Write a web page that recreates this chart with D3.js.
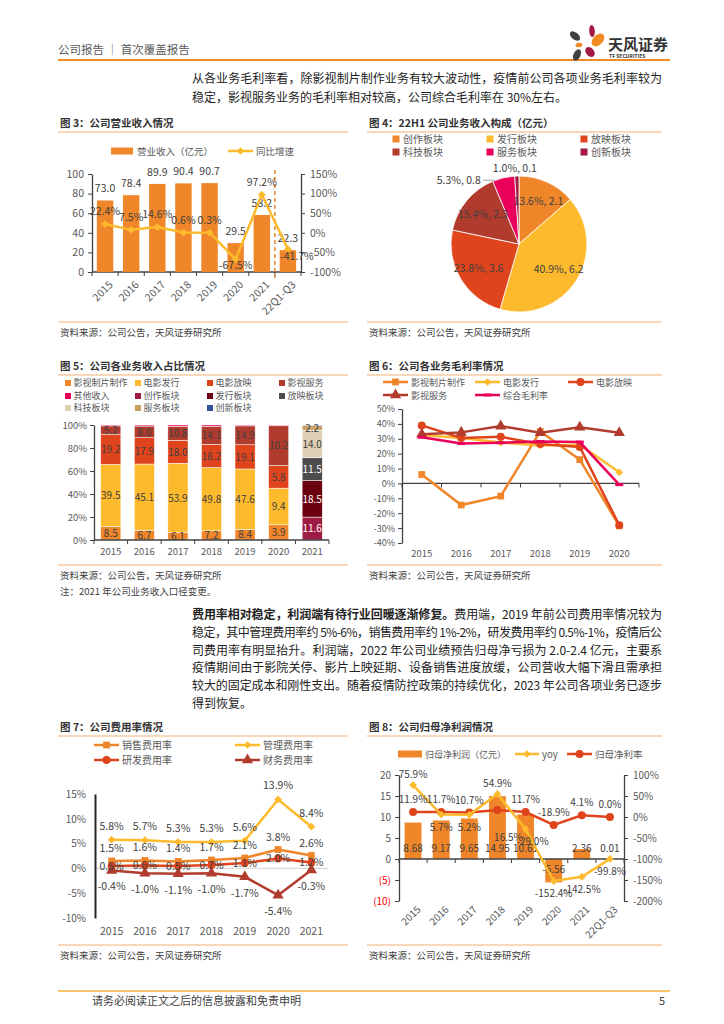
<!DOCTYPE html>
<html>
<head>
<meta charset="utf-8">
<script src="https://cdn.jsdelivr.net/npm/d3@7"></script>
<style>
  body { margin: 0; background: #fff; }
  svg { display: block; font-family: "Noto Sans CJK SC", "Noto Sans", sans-serif; }
</style>
</head>
<body>
<svg id="page" width="724" height="1024"></svg>
<script>
// ---- data ----
const revYears = ['2015', '2016', '2017', '2018', '2019', '2020', '2021', '22Q1-Q3'];
const revenue = [73.0, 78.4, 89.9, 90.4, 90.7, 29.5, 58.2, 22.3];
const revGrowth = [22.4, 7.5, 14.6, 0.6, 0.3, -67.5, 97.2, -41.7];

const pieNames = ['创作板块', '发行板块', '放映板块', '科技板块', '服务板块', '创新板块'];
const piePct = [13.6, 40.9, 23.8, 15.4, 5.3, 1.0];
const pieVal = [2.1, 6.2, 3.6, 2.3, 0.8, 0.1];

const mixYears = ['2015', '2016', '2017', '2018', '2019', '2020', '2021'];
const mixNames = ['影视制片制作', '电影发行', '电影放映', '影视服务', '其他收入', '创作板块', '发行板块', '放映板块', '科技板块', '服务板块', '创新板块'];
const mixProduction = [8.5, 6.7, 6.1, 7.2, 8.4, 3.9, 0];
const mixDistribution = [39.5, 45.1, 53.9, 49.8, 47.6, 9.4, 0];
const mixExhibition = [19.2, 17.9, 18.0, 18.2, 19.1, 5.8, 0];
const mixService = [5.2, 8.0, 10.8, 14.1, 14.9, 10.2, 0];
const mixOther = [0.6, 0.7, 1.1, 1.1, 0.7, 0.2, 0];
const mixCreation = [0, 0, 0, 0, 0, 0, 11.6];
const mixRelease = [0, 0, 0, 0, 0, 0, 18.5];
const mixScreen = [0, 0, 0, 0, 0, 0, 11.5];
const mixTech = [0, 0, 0, 0, 0, 0, 14.0];
const mixServe = [0, 0, 0, 0, 0, 0, 2.2];
const mixInnov = [0, 0, 0, 0, 0, 0, 0.4];

const gmYears = ['2015', '2016', '2017', '2018', '2019', '2020'];
const gmNames = ['影视制片制作', '电影发行', '电影放映', '影视服务', '综合毛利率'];
const gmProduction = [6.0, -14.5, -8.5, 35.0, 16.0, -28.5];
const gmDistribution = [32.5, 30.5, 27.5, 25.5, 26.0, 7.5];
const gmExhibition = [39.0, 30.5, 31.3, 26.5, 24.5, -28.0];
const gmService = [33.0, 34.3, 38.5, 34.0, 37.8, 34.0];
const gmTotal = [31.0, 26.8, 27.3, 28.2, 27.8, -0.8];

const feeYears = ['2015', '2016', '2017', '2018', '2019', '2020', '2021'];
const feeNames = ['销售费用率', '管理费用率', '研发费用率', '财务费用率'];
const feeSales = [1.5, 1.6, 1.4, 1.7, 2.1, 3.8, 2.6];
const feeAdmin = [5.8, 5.7, 5.3, 5.3, 5.6, 13.9, 8.4];
const feeRD = [0.5, 0.6, 0.5, 0.7, 1.1, 2.0, 1.2];
const feeFin = [-0.4, -1.0, -1.1, -1.0, -1.7, -5.4, -0.3];

const npYears = ['2015', '2016', '2017', '2018', '2019', '2020', '2021', '22Q1-Q3'];
const netProfit = [8.68, 9.17, 9.65, 14.95, 10.61, -5.56, 2.36, 0.01];
const npYoy = [75.9, 5.7, 5.2, 54.9, -29.0, -152.4, -142.5, -99.8];
const npMargin = [11.9, 11.7, 10.7, 16.5, 11.7, -18.9, 4.1, 0.0];

// ---- colours / helpers ----
const col = {
  orange: '#F0862A', yellow: '#FDBA2C', red: '#E0441D', brown: '#B13C2E',
  magenta: '#E8005A', crimson: '#A01C45', maroon: '#6A0010', gray: '#4D4D4D',
  beige: '#DDD0B4', tan: '#C9A064', blue: '#2F5597'
};
const FONT = '"Noto Sans CJK SC", "Noto Sans", sans-serif';
const TXT = '#404040';
const svg = d3.select('#page');

function txt(g, x, y, s, o = {}) {
  return g.append('text').attr('x', x).attr('y', y).text(s)
    .attr('font-size', o.size || 10).attr('fill', o.fill || TXT)
    .attr('text-anchor', o.anchor || 'start')
    .attr('font-weight', o.weight || 'normal');
}

function styleAxis(sel, size) {
  sel.attr('font-family', FONT);
  sel.select('.domain').attr('stroke', '#404040').attr('stroke-width', 1.3);
  sel.selectAll('.tick line').attr('stroke', '#404040');
  sel.selectAll('.tick text').attr('fill', '#595959').attr('font-size', size);
}

function catAxis(g, x, y, tick, color) {
  const [a, b] = x.range();
  g.append('line').attr('x1', a).attr('x2', b).attr('y1', y).attr('y2', y)
    .attr('stroke', color || '#404040').attr('stroke-width', 1.3);
  if (!tick) return;
  g.selectAll(null).data(d3.range(x.domain().length + 1)).enter().append('line')
    .attr('x1', i => a + i * x.step()).attr('x2', i => a + i * x.step())
    .attr('y1', y).attr('y2', y + tick).attr('stroke', color || '#404040');
}

function marker(g, shape, cx, cy, color) {
  if (shape === 'dash') {
    return g.append('rect').attr('x', cx - 4).attr('y', cy - 1.5).attr('width', 8).attr('height', 3).attr('fill', color);
  }
  const types = { square: [d3.symbolSquare, 46], diamond: [d3.symbolSquare, 30], circle: [d3.symbolCircle, 50], triangle: [d3.symbolTriangle, 55] };
  const t = types[shape];
  return g.append('path').attr('d', d3.symbol(t[0], t[1])())
    .attr('transform', `translate(${cx},${cy})` + (shape === 'diamond' ? ' rotate(45)' : ''))
    .attr('fill', color);
}

function legendLine(g, x1, x2, y, color, shape, label, size) {
  g.append('line').attr('x1', x1).attr('x2', x2).attr('y1', y).attr('y2', y).attr('stroke', color).attr('stroke-width', 2.5);
  marker(g, shape, (x1 + x2) / 2, y, color);
  txt(g, x2 + 3, y + 3.5, label, { size: size || 10, fill: '#595959' });
}

function frame(x0, x1, ty, title, lineY, botY, notes) {
  txt(svg, x0 + 2, ty, title, { size: 10.5, weight: 'bold', fill: '#333' });
  [lineY, botY].forEach(y => svg.append('line').attr('x1', x0).attr('x2', x1).attr('y1', y).attr('y2', y)
    .attr('stroke', '#F4AF72').attr('stroke-width', 1));
  notes.forEach((n, i) => txt(svg, x0 + 2, botY + 13.5 + i * 16.5, n, { size: 9.5, fill: '#404040' }));
}

const SRC = '资料来源：公司公告，天风证券研究所';

// ---- page header ----
function header() {
  txt(svg, 58, 54, '公司报告 ｜ 首次覆盖报告', { size: 11.5, fill: '#595959' });
  svg.append('line').attr('x1', 58).attr('x2', 670).attr('y1', 60).attr('y2', 60).attr('stroke', '#F08A24').attr('stroke-width', 2);
  const lg = svg.append('g');
  const petals = [
    [592, 31, 2.8, 6, -5, '#A3193F'], [598, 40, 5, 7.5, 45, '#F08A24'], [575, 36, 3.5, 6, -50, '#404040'],
    [579, 45, 3.5, 2.2, -10, '#F08A24'], [590, 52, 4, 5.5, -40, '#A3193F'], [577, 55, 3.5, 6, 25, '#404040']
  ];
  petals.forEach(p => lg.append('ellipse').attr('cx', 0).attr('cy', 0).attr('rx', p[2]).attr('ry', p[3])
    .attr('transform', `translate(${p[0]},${p[1]}) rotate(${p[4]})`).attr('fill', p[5]));
  txt(lg, 608, 50, '天风证券', { size: 15, weight: 'bold', fill: '#333' });
  txt(lg, 609, 58, 'TF SECURITIES', { size: 5, weight: 'bold', fill: '#333' });
}

function para(lines, y0, lh) {
  lines.forEach((ln, i) => {
    const t = svg.append('text').attr('x', 192).attr('y', y0 + i * lh).attr('font-size', 12).attr('fill', '#222');
    ln.parts.forEach(p => t.append('tspan').text(p[0]).attr('font-weight', p[1] ? 'bold' : 'normal'));
    if (ln.full) t.attr('textLength', 470).attr('lengthAdjust', 'spacing');
  });
}

// ---- 图3 ----
function chart3() {
  const g = svg.append('g');
  const x = d3.scaleBand().domain(revYears).range([92, 301]).paddingInner(0.37).paddingOuter(0.185);
  const yL = d3.scaleLinear().domain([0, 100]).range([272, 174]);
  const yR = d3.scaleLinear().domain([-100, 150]).range([272, 174]);
  const cx = d => x(d) + x.bandwidth() / 2;

  g.append('g').attr('transform', 'translate(92,0)')
    .call(d3.axisLeft(yL).tickValues(d3.range(0, 101, 20)).tickSize(4).tickSizeOuter(0).tickPadding(4)).call(styleAxis, 10.5);
  g.append('g').attr('transform', 'translate(301,0)')
    .call(d3.axisRight(yR).tickValues(d3.range(-100, 151, 50)).tickFormat(d => d + '%').tickSize(4).tickSizeOuter(0).tickPadding(5)).call(styleAxis, 10.5);
  catAxis(g, x, 272, 4);

  g.selectAll('.bar').data(revenue).enter().append('rect')
    .attr('x', (d, i) => x(revYears[i])).attr('width', x.bandwidth())
    .attr('y', d => yL(d)).attr('height', d => yL(0) - yL(d)).attr('fill', col.orange);
  g.selectAll('.bl').data(revenue).enter().append('text')
    .attr('x', (d, i) => cx(revYears[i])).attr('y', d => yL(d) - 8)
    .attr('text-anchor', 'middle').attr('font-size', 10.5).attr('fill', TXT).text(d => d.toFixed(1));

  const bx = x.range()[0] + 7 * x.step();
  g.append('line').attr('x1', bx).attr('x2', bx).attr('y1', 170).attr('y2', 278)
    .attr('stroke', col.orange).attr('stroke-width', 1.5).attr('stroke-dasharray', '4,3');

  const line = d3.line().x((d, i) => cx(revYears[i])).y(d => yR(d));
  g.append('path').datum(revGrowth).attr('d', line).attr('fill', 'none').attr('stroke', col.yellow).attr('stroke-width', 2.5);
  revGrowth.forEach((v, i) => marker(g, 'diamond', cx(revYears[i]), yR(v), col.yellow));
  g.selectAll('.gl').data(revGrowth).enter().append('text')
    .attr('x', (d, i) => cx(revYears[i]) + (i === 7 ? 9 : 0))
    .attr('y', (d, i) => yR(d) + (i === 5 ? 10 : i === 7 ? 10.5 : -9))
    .attr('text-anchor', 'middle').attr('font-size', 10.5).attr('fill', TXT).text(d => d.toFixed(1) + '%');

  g.selectAll('.xl').data(revYears).enter().append('text')
    .attr('transform', d => `translate(${cx(d) + 4},281) rotate(-45)`)
    .attr('text-anchor', 'end').attr('dy', '0.6em').attr('font-size', 10.5).attr('fill', '#595959').text(d => d);

  g.append('rect').attr('x', 111).attr('y', 147.5).attr('width', 22).attr('height', 7).attr('fill', col.orange);
  txt(g, 137, 154.5, '营业收入（亿元）', { size: 9.5, fill: '#595959' });
  legendLine(g, 228, 253, 151, col.yellow, 'diamond', '同比增速', 9.5);
}

// ---- 图4 ----
function chart4() {
  const g = svg.append('g').attr('transform', 'translate(519,244)');
  const colors = [col.orange, col.yellow, col.red, col.brown, col.magenta, col.crimson];
  const arcs = d3.pie().sort(null)(piePct);
  const arc = d3.arc().innerRadius(0).outerRadius(68);
  const lab = d3.arc().innerRadius(47).outerRadius(47);
  g.selectAll('path').data(arcs).enter().append('path').attr('d', arc)
    .attr('fill', (d, i) => colors[i]).attr('stroke', '#fff').attr('stroke-width', 0.8);
  arcs.forEach((a, i) => {
    const s = piePct[i].toFixed(1) + '%, ' + pieVal[i].toFixed(1);
    if (piePct[i] > 10) {
      const c = lab.centroid(a);
      txt(g, c[0], c[1] + 4, s, { size: 10.5, anchor: 'middle' });
    } else if (i === 4) {
      const ex = 68 * Math.sin(a.startAngle), ey = -68 * Math.cos(a.startAngle);
      g.append('line').attr('x1', ex - 10).attr('x2', ex + 2).attr('y1', ey - 1).attr('y2', ey - 1).attr('stroke', '#A6A6A6');
      txt(g, ex - 12, ey + 2.5, s, { size: 10.5, anchor: 'end' });
    } else {
      const m = (a.startAngle + a.endAngle) / 2;
      txt(g, 68 * Math.sin(m) - 2, -68 * Math.cos(m) - 4, s, { size: 10.5, anchor: 'middle' });
    }
  });
  const lg = svg.append('g');
  pieNames.forEach((n, i) => {
    const lx = [396, 490, 584][i % 3], ly = [139, 152][Math.floor(i / 3)];
    lg.append('rect').attr('x', lx - 3.5).attr('y', ly - 3.5).attr('width', 7).attr('height', 7).attr('fill', colors[i]);
    txt(lg, lx + 7, ly + 4, n, { size: 10, fill: '#595959' });
  });
}

// ---- 图5 ----
function chart5() {
  const g = svg.append('g');
  const series = [mixProduction, mixDistribution, mixExhibition, mixService, mixOther, mixCreation, mixRelease, mixScreen, mixTech, mixServe, mixInnov];
  const colors = [col.orange, col.yellow, col.red, col.brown, col.magenta, col.crimson, col.maroon, col.gray, col.beige, col.tan, col.blue];
  const rows = mixYears.map((yr, i) => {
    const r = { year: yr };
    mixNames.forEach((n, k) => { r[n] = series[k][i]; });
    return r;
  });
  const stack = d3.stack().keys(mixNames).offset(d3.stackOffsetExpand)(rows);
  const x = d3.scaleBand().domain(mixYears).range([94, 329]).paddingInner(0.4).paddingOuter(0.2);
  const y = d3.scaleLinear().domain([0, 1]).range([540, 425]);

  g.append('g').attr('transform', 'translate(94,0)')
    .call(d3.axisLeft(y).tickValues(d3.range(0, 1.01, 0.2)).tickFormat(d3.format('.0%')).tickSize(4).tickSizeOuter(0).tickPadding(3)).call(styleAxis, 9.5);

  stack.forEach((s, k) => {
    g.selectAll(null).data(s).enter().append('rect')
      .attr('x', d => x(d.data.year)).attr('width', x.bandwidth())
      .attr('y', d => y(d[1])).attr('height', d => y(d[0]) - y(d[1]))
      .attr('fill', colors[k]).attr('stroke', '#fff').attr('stroke-width', 0.5);
  });
  stack.forEach((s, k) => {
    if (k === 4 || k === 10) return;
    s.forEach((d, i) => {
      const v = series[k][i];
      if (v < 1.5) return;
      const dark = k >= 5 && k <= 7;
      txt(g, x(d.data.year) + x.bandwidth() / 2, (y(d[0]) + y(d[1])) / 2 + 3.8, v.toFixed(1),
        { size: 10, anchor: 'middle', fill: dark ? '#fff' : TXT });
    });
  });
  catAxis(g, x, 540, 4);
  mixYears.forEach(d => txt(g, x(d) + x.bandwidth() / 2, 555, d, { size: 9.5, anchor: 'middle', fill: '#595959' }));

  mixNames.forEach((n, i) => {
    const lx = [68, 138, 210, 282][i % 4], ly = [383, 396, 408][Math.floor(i / 4)];
    g.append('rect').attr('x', lx - 3).attr('y', ly - 3).attr('width', 6).attr('height', 6).attr('fill', colors[i]);
    txt(g, lx + 5.5, ly + 3.3, n, { size: 9, fill: '#595959' });
  });
}

// ---- 图6 ----
function chart6() {
  const g = svg.append('g');
  const series = [gmProduction, gmDistribution, gmExhibition, gmService, gmTotal];
  const colors = [col.orange, col.yellow, col.red, col.brown, col.magenta];
  const shapes = ['square', 'diamond', 'circle', 'triangle', 'dash'];
  const x = d3.scaleBand().domain(gmYears).range([402, 639]);
  const y = d3.scaleLinear().domain([-40, 50]).range([543, 409]);
  const cx = d => x(d) + x.bandwidth() / 2;

  g.append('g').attr('transform', 'translate(402,0)')
    .call(d3.axisLeft(y).tickValues(d3.range(-40, 51, 10)).tickFormat(d => d + '%').tickSize(4).tickSizeOuter(0).tickPadding(3)).call(styleAxis, 9);
  catAxis(g, x, y(0), 4);
  gmYears.forEach(d => txt(g, cx(d), 557, d, { size: 9.5, anchor: 'middle', fill: '#595959' }));

  const line = d3.line().x((d, i) => cx(gmYears[i])).y(d => y(d));
  series.forEach((s, k) => {
    g.append('path').datum(s).attr('d', line).attr('fill', 'none').attr('stroke', colors[k]).attr('stroke-width', 2.5);
    s.forEach((v, i) => marker(g, shapes[k], cx(gmYears[i]), y(v), colors[k]));
  });

  gmNames.forEach((n, i) => {
    const lx = [383, 475, 568][i % 3], ly = [382, 395][Math.floor(i / 3)];
    legendLine(g, lx, lx + 25, ly, colors[i], shapes[i], n, 9);
  });
}

// ---- 图7 ----
function chart7() {
  const g = svg.append('g');
  const series = [feeSales, feeAdmin, feeRD, feeFin];
  const colors = [col.orange, col.yellow, col.red, col.brown];
  const shapes = ['square', 'diamond', 'circle', 'triangle'];
  const dy = [-9, -10, 4, 20];
  const x = d3.scaleBand().domain(feeYears).range([95, 328]);
  const y = d3.scaleLinear().domain([-10, 15]).range([918, 794]);
  const cx = d => x(d) + x.bandwidth() / 2;

  catAxis(g, x, y(0), 0, '#D9D9D9');
  const ax = g.append('g').attr('transform', 'translate(95,0)')
    .call(d3.axisLeft(y).tickValues(d3.range(-10, 16, 5)).tickFormat(d => d + '%').tickSize(0).tickPadding(9));
  ax.call(styleAxis, 10);
  ax.select('.domain').attr('stroke', '#262626').attr('stroke-width', 2);
  feeYears.forEach(d => txt(g, cx(d), 935, d, { size: 10.5, anchor: 'middle', fill: '#595959' }));

  const line = d3.line().x((d, i) => cx(feeYears[i])).y(d => y(d));
  series.forEach((s, k) => {
    g.append('path').datum(s).attr('d', line).attr('fill', 'none').attr('stroke', colors[k]).attr('stroke-width', 2.5);
    s.forEach((v, i) => marker(g, shapes[k], cx(feeYears[i]), y(v), colors[k]));
  });
  series.forEach((s, k) => {
    s.forEach((v, i) => txt(g, cx(feeYears[i]), y(v) + dy[k], v.toFixed(1) + '%', { size: 10.5, anchor: 'middle' }));
  });

  feeNames.forEach((n, i) => {
    const lx = [94, 235][i % 2], ly = [745, 760][Math.floor(i / 2)];
    legendLine(g, lx, lx + 25, ly, colors[i], shapes[i], n, 10);
  });
}

// ---- 图8 ----
function chart8() {
  const g = svg.append('g');
  const x = d3.scaleBand().domain(npYears).range([399, 624]).paddingInner(0.4).paddingOuter(0.2);
  const yL = d3.scaleLinear().domain([-10, 20]).range([901, 775]);
  const yR = d3.scaleLinear().domain([-200, 100]).range([901, 775]);
  const cx = d => x(d) + x.bandwidth() / 2;

  const al = g.append('g').attr('transform', 'translate(399,0)')
    .call(d3.axisLeft(yL).tickValues(d3.range(-10, 21, 5)).tickFormat(d => d < 0 ? '(' + (-d) + ')' : d).tickSize(4).tickSizeOuter(0).tickPadding(4));
  al.call(styleAxis, 10);
  al.selectAll('.tick text').attr('fill', d => d < 0 ? '#FF0000' : '#595959');
  g.append('g').attr('transform', 'translate(624,0)')
    .call(d3.axisRight(yR).tickValues(d3.range(-200, 101, 50)).tickFormat(d => d + '%').tickSize(4).tickSizeOuter(0).tickPadding(5)).call(styleAxis, 10);

  g.selectAll('.bar').data(netProfit).enter().append('rect')
    .attr('x', (d, i) => x(npYears[i])).attr('width', x.bandwidth())
    .attr('y', d => yL(Math.max(0, d))).attr('height', d => Math.abs(yL(d) - yL(0))).attr('fill', col.orange);
  catAxis(g, x, yL(0), 4);
  netProfit.forEach((v, i) => txt(g, cx(npYears[i]), yL(0) + (v < 0 ? 14 : -7), v.toFixed(2), { size: 10, anchor: 'middle' }));

  const line = d3.line().x((d, i) => cx(npYears[i])).y(d => yR(d));
  g.append('path').datum(npMargin).attr('d', line).attr('fill', 'none').attr('stroke', col.red).attr('stroke-width', 2.5);
  npMargin.forEach((v, i) => marker(g, 'circle', cx(npYears[i]), yR(v), col.red));
  g.append('path').datum(npYoy).attr('d', line).attr('fill', 'none').attr('stroke', col.yellow).attr('stroke-width', 2.5);
  npYoy.forEach((v, i) => marker(g, 'diamond', cx(npYears[i]), yR(v), col.yellow));

  npYoy.forEach((v, i) => {
    const up = i === 0 || i === 3;
    txt(g, cx(npYears[i]) + (i === 4 ? 7 : 0), yR(v) + (up ? -7 : 16), v.toFixed(1) + '%', { size: 10, anchor: 'middle' });
  });
  npMargin.forEach((v, i) => {
    const below = i === 3;
    txt(g, cx(npYears[i]) + (below ? 11 : 0), yR(v) + (below ? 31 : -9), v.toFixed(1) + '%', { size: 10, anchor: 'middle' });
  });

  g.selectAll('.xl').data(npYears).enter().append('text')
    .attr('transform', d => `translate(${cx(d) + 4},906) rotate(-45)`)
    .attr('text-anchor', 'end').attr('dy', '0.6em').attr('font-size', 10).attr('fill', '#595959').text(d => d);

  g.append('rect').attr('x', 398).attr('y', 750.5).attr('width', 24).attr('height', 7).attr('fill', col.orange);
  txt(g, 425, 757.5, '归母净利润（亿元）', { size: 9, fill: '#595959' });
  legendLine(g, 515, 539, 754, col.yellow, 'diamond', 'yoy', 9.5);
  legendLine(g, 567, 592, 754, col.red, 'circle', '归母净利率', 9.5);
}

// ---- page ----
header();
para([
  { parts: [['从各业务毛利率看，除影视制片制作业务有较大波动性，疫情前公司各项业务毛利率较为', 0]], full: true },
  { parts: [['稳定，影视服务业务的毛利率相对较高，公司综合毛利率在 30%左右。', 0]] }
], 83, 18.5);

frame(58, 348, 127, '图 3：公司营业收入情况', 132, 322, [SRC]);
frame(367, 662, 127, '图 4：22H1 公司业务收入构成（亿元）', 132, 322, [SRC]);
frame(58, 348, 370, '图 5：公司各业务收入占比情况', 375, 565, [SRC, '注：2021 年公司业务收入口径变更。']);
frame(367, 662, 370, '图 6：公司各业务毛利率情况', 375, 565, [SRC]);
chart3();
chart4();
chart5();
chart6();

para([
  { parts: [['费用率相对稳定，利润端有待行业回暖逐渐修复。', 1], ['费用端，2019 年前公司费用率情况较为', 0]], full: true },
  { parts: [['稳定，其中管理费用率约 5%-6%，销售费用率约 1%-2%，研发费用率约 0.5%-1%，疫情后公', 0]], full: true },
  { parts: [['司费用率有明显抬升。利润端，2022 年公司业绩预告归母净亏损为 2.0-2.4 亿元，主要系', 0]], full: true },
  { parts: [['疫情期间由于影院关停、影片上映延期、设备销售进度放缓，公司营收大幅下滑且需承担', 0]], full: true },
  { parts: [['较大的固定成本和刚性支出。随着疫情防控政策的持续优化，2023 年公司各项业务已逐步', 0]], full: true },
  { parts: [['得到恢复。', 0]] }
], 619, 17.8);

frame(58, 348, 731, '图 7：公司费用率情况', 736, 945, [SRC]);
frame(367, 662, 731, '图 8：公司归母净利润情况', 736, 945, [SRC]);
chart7();
chart8();

svg.append('line').attr('x1', 58).attr('x2', 670).attr('y1', 991).attr('y2', 991).attr('stroke', '#F4AF3A').attr('stroke-width', 1.5);
txt(svg, 92, 1005, '请务必阅读正文之后的信息披露和免责申明', { size: 11, fill: '#404040' });
txt(svg, 665, 1005, '5', { size: 11, anchor: 'end', fill: '#404040' });
</script>
</body>
</html>
